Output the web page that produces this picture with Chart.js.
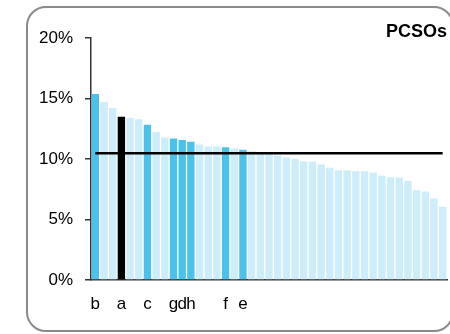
<!DOCTYPE html>
<html>
<head>
<meta charset="utf-8">
<script src="https://cdn.jsdelivr.net/npm/chart.js@4.4.1/dist/chart.umd.min.js"></script>
<style>
  html, body { margin: 0; padding: 0; background: #fff; overflow: hidden; }
  #wrap { position: relative; width: 450px; height: 334px; overflow: hidden; }
  #frame { position: absolute; left: 26px; top: 6px; width: 428px; height: 326px;
           border: 2px solid #8a8a8a; border-radius: 20px; box-sizing: border-box; }
  #title { position: absolute; right: 3px; top: 22px; font: bold 18px "Liberation Sans", Arial, sans-serif;
           line-height: 18px; color: #000; }
  canvas { position: absolute; left: 0; top: 0; }
</style>
</head>
<body>
<div id="wrap">
  <div id="frame"></div>
  <canvas id="c" width="450" height="334"></canvas>
  <div id="title">PCSOs</div>
</div>
<script>
// Category labels (only highlighted forces labelled)
const categories = ['b','','','a','','','c','','','g','d','h','','','','f','','e',
  '','','','','','','','','','','','','','','','','','','','','','',''];
// Series values (%)
const values = [15.38,14.72,14.22,13.50,13.39,13.28,12.84,12.24,11.75,11.69,
  11.58,11.42,11.20,11.03,11.03,10.98,10.87,10.76,10.65,10.52,
  10.43,10.29,10.13,10.02,9.80,9.77,9.55,9.28,9.06,9.06,
  8.98,8.98,8.87,8.62,8.49,8.46,8.18,7.42,7.31,6.73,6.05];
// Highlight kind per bar: 'a' = selected force, 'h' = comparison group, '' = other
const highlight = ['h','','','a','','','h','','','h','h','h','','','','h','','h',
  '','','','','','','','','','','','','','','','','','','','','','',''];
// Average line value (%)
const averageValue = 10.47;
const yTicks = [0, 5, 10, 15, 20];

const colorFor = k => k === 'a' ? '#000000' : (k === 'h' ? '#4cc1ec' : '#cdedfa');

const FONT = '"Liberation Sans", Arial, sans-serif';

new Chart(document.getElementById('c'), {
  data: {
    labels: categories,
    datasets: [
      {
        type: 'line',
        data: categories.map(() => averageValue),
        borderColor: '#000',
        borderWidth: 2.5,
        pointRadius: 0,
        order: 0
      },
      {
        type: 'bar',
        data: values,
        backgroundColor: highlight.map(colorFor),
        barPercentage: 0.85,
        categoryPercentage: 1.0,
        order: 1
      }
    ]
  },
  options: {
    responsive: false,
    animation: false,
    devicePixelRatio: 1,
    layout: { padding: { top: 38, right: 3, left: 0, bottom: 0 } },
    plugins: { legend: { display: false }, tooltip: { enabled: false }, title: { display: false } },
    scales: {
      x: {
        type: 'category',
        offset: true,
        grid: { display: false, drawTicks: true, tickLength: 14 },
        border: { display: true, color: '#333', width: 1.5 },
        ticks: { autoSkip: false, maxRotation: 0, minRotation: 0, padding: 0,
                 color: '#000', font: { family: FONT, size: 17 } },
        afterFit: s => { s.height = 54; }
      },
      y: {
        min: 0, max: 20,
        afterBuildTicks: s => { s.ticks = yTicks.map(v => ({ value: v })); },
        grid: { drawOnChartArea: false, drawTicks: true, tickLength: 6, color: '#333', lineWidth: 1.5 },
        border: { display: true, color: '#333', width: 1.5 },
        ticks: { padding: 12, color: '#000', font: { family: FONT, size: 17 },
                 callback: v => v + '%' },
        afterFit: s => { s.width = 91; }
      }
    }
  }
});
</script>
</body>
</html>
